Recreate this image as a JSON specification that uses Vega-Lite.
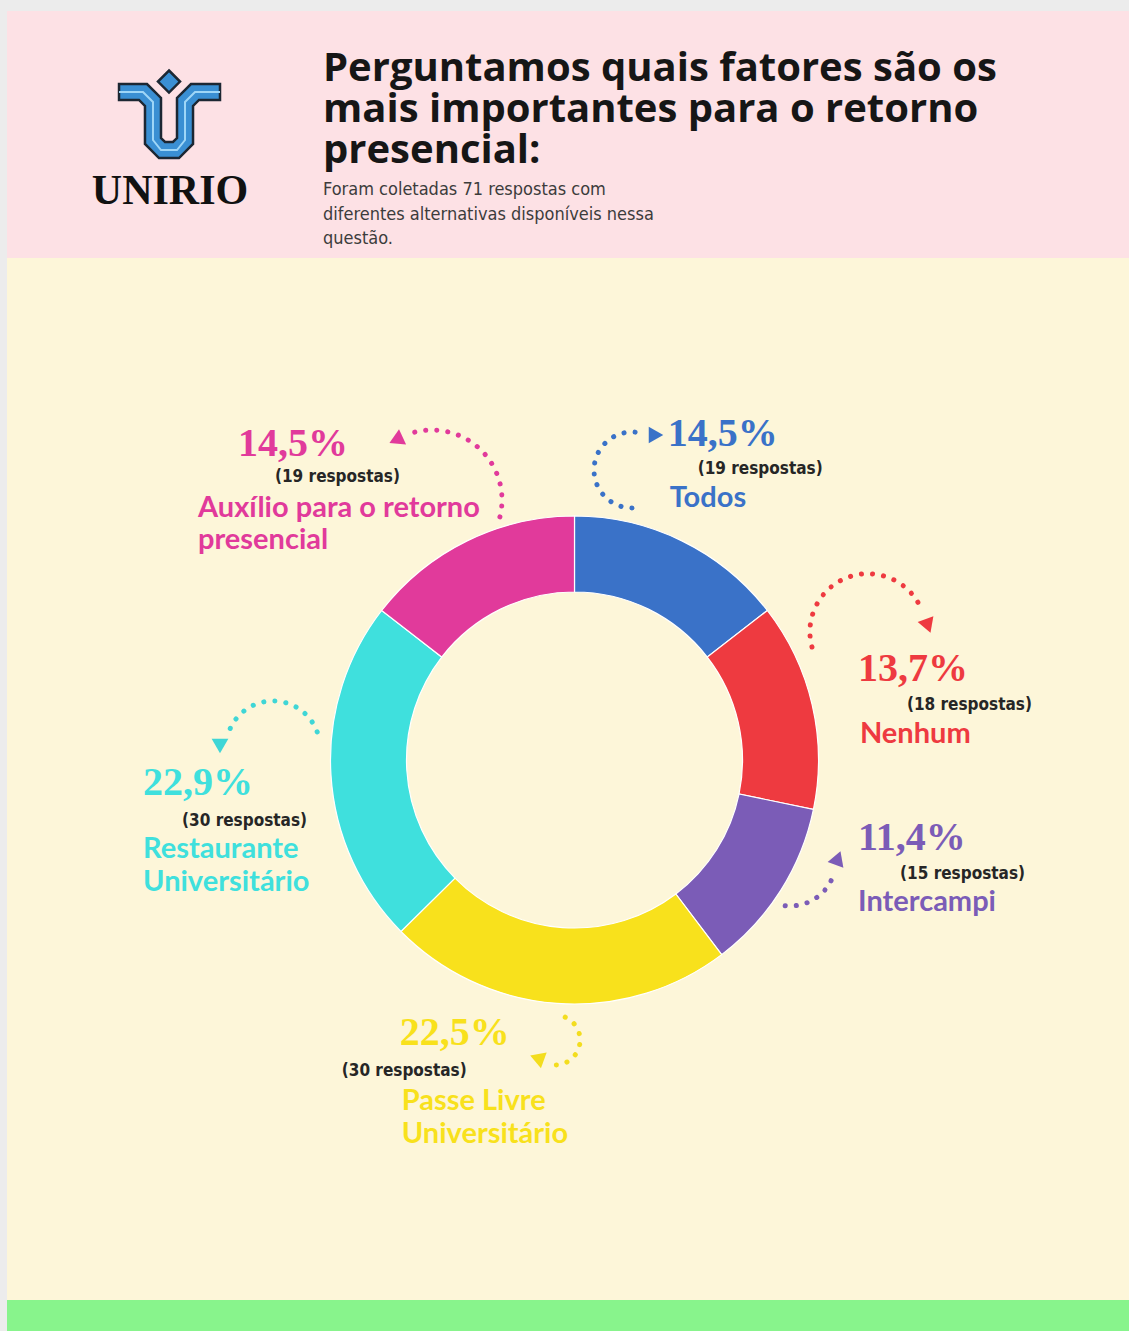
{
  "$schema": "https://vega.github.io/schema/vega-lite/v6.json",
  "background": "#ececec",
  "padding": {"left": 7, "top": 11, "right": 0, "bottom": 0},
  "spacing": 0,
  "config": {"view": {"stroke": null}, "concat": {"spacing": 0}, "legend": {"disable": true}},
  "datasets": {
    "respostas": [
      {"ord": 1, "cat": "Todos", "n": 19, "pct": "14,5%", "resp": "(19 respostas)", "nome": "Todos"},
      {"ord": 2, "cat": "Nenhum", "n": 18, "pct": "13,7%", "resp": "(18 respostas)", "nome": "Nenhum"},
      {"ord": 3, "cat": "Intercampi", "n": 15, "pct": "11,4%", "resp": "(15 respostas)", "nome": "Intercampi"},
      {"ord": 4, "cat": "Passe Livre", "n": 30, "pct": "22,5%", "resp": "(30 respostas)", "nome": "Passe Livre\nUniversitário"},
      {"ord": 5, "cat": "Restaurante", "n": 30, "pct": "22,9%", "resp": "(30 respostas)", "nome": "Restaurante\nUniversitário"},
      {"ord": 6, "cat": "Auxílio", "n": 19, "pct": "14,5%", "resp": "(19 respostas)", "nome": "Auxílio para o retorno\npresencial"}
    ]
  },
  "vconcat": [
    {
      "width": 1122, "height": 247,
      "view": {"fill": "#fde1e5", "stroke": null},
      "data": {"values": [{}]},
      "layer": [
        {"mark": {"type": "point", "shape": "M-0.98,-0.588L-0.431,-0.588L-0.157,-0.314L-0.157,0.471L-0.078,0.549L0.078,0.549L0.157,0.471L0.157,-0.314L0.431,-0.588L1,-0.588L1,-0.275L0.588,-0.275L0.471,-0.157L0.471,0.588L0.196,0.863L-0.196,0.863L-0.471,0.588L-0.471,-0.157L-0.588,-0.275L-0.98,-0.275ZM0,-0.853L0.216,-0.637L0,-0.421L-0.216,-0.637Z", "size": 10404, "filled": true, "fill": "#3a8fd3", "stroke": "#1c2733", "strokeWidth": 2.5, "opacity": 1, "x": 162, "y": 103}},
        {"mark": {"type": "point", "shape": "M-0.98,-0.431L-0.51,-0.431L-0.314,-0.235L-0.314,0.51L-0.157,0.706L0.157,0.706L0.314,0.51L0.314,-0.235L0.51,-0.431L1,-0.431", "size": 10404, "filled": false, "stroke": "#9fd6f7", "strokeWidth": 2, "opacity": 1, "x": 162, "y": 103}},
        {"mark": {"type": "text", "text": "UNIRIO", "x": 163, "y": 193, "align": "center", "baseline": "alphabetic", "font": "Liberation Serif", "fontWeight": "bold", "fontSize": 42, "fill": "#111111"}},
        {"mark": {"type": "text", "text": ["Perguntamos quais fatores são os", "mais importantes para o retorno", "presencial:"], "x": 316, "y": 70, "align": "left", "baseline": "alphabetic", "font": "Open Sans", "fontWeight": "bold", "fontSize": 40, "lineHeight": 41, "fill": "#161616"}},
        {"mark": {"type": "text", "text": ["Foram coletadas 71 respostas com", "diferentes alternativas disponíveis nessa", "questão."], "x": 316, "y": 184, "align": "left", "baseline": "alphabetic", "font": "Liberation Sans Narrow, DejaVu Sans Condensed, Roboto", "fontSize": 18, "lineHeight": 24.5, "fill": "#3c3c3c"}}
      ]
    },
    {
      "spacing": 0,
      "bounds": "flush",
      "hconcat": [
        {"width": 13, "height": 1004, "view": {"fill": "#fdf6d9", "stroke": null}, "data": {"values": [{}]}, "mark": {"type": "text", "text": ""}},
        {
          "width": 1109, "height": 1004,
          "view": {"fill": "#fdf6d9", "stroke": null},
          "layer": [
            {
              "data": {"name": "respostas"},
              "encoding": {
                "theta": {"field": "n", "type": "quantitative", "stack": true},
                "order": {"field": "ord", "type": "quantitative"},
                "detail": {"field": "cat", "type": "nominal"}
              },
              "layer": [
                {"mark": {"type": "arc", "outerRadius": 244, "innerRadius": 168, "stroke": "#ffffff", "strokeWidth": 1.2},
                 "encoding": {"color": {"field": "cat", "type": "nominal", "legend": null, "scale": {"domain": ["Todos", "Nenhum", "Intercampi", "Passe Livre", "Restaurante", "Auxílio"], "range": ["#3a72c8", "#ee3a40", "#7b5cb7", "#f8e11c", "#3fe0dd", "#e13a9b"]}}}},

                {"mark": {"type": "text", "radius": 330, "align": "left", "baseline": "alphabetic", "dx": -52, "dy": -18, "font": "Liberation Serif", "fontWeight": "bold", "fontSize": 40},
                 "encoding": {"text": {"field": "pct"}, "color": {"field": "cat", "type": "nominal", "legend": null}, "opacity": {"condition": {"test": "datum.cat === 'Todos'", "value": 1}, "value": 0}}},
                {"mark": {"type": "text", "radius": 330, "align": "left", "baseline": "alphabetic", "dx": -22, "dy": 10, "font": "Liberation Sans Narrow, DejaVu Sans Condensed, Roboto", "fontWeight": "bold", "fontSize": 17},
                 "encoding": {"text": {"field": "resp"}, "color": {"value": "#262626"}, "opacity": {"condition": {"test": "datum.cat === 'Todos'", "value": 1}, "value": 0}}},
                {"mark": {"type": "text", "radius": 330, "align": "left", "baseline": "alphabetic", "dx": -50, "dy": 43, "font": "Lato", "fontWeight": "bold", "fontSize": 29, "lineBreak": "\n", "lineHeight": 33},
                 "encoding": {"text": {"field": "nome"}, "color": {"field": "cat", "type": "nominal", "legend": null}, "opacity": {"condition": {"test": "datum.cat === 'Todos'", "value": 1}, "value": 0}}},

                {"mark": {"type": "text", "radius": 330, "align": "left", "baseline": "alphabetic", "dx": -38, "dy": -4.5, "font": "Liberation Serif", "fontWeight": "bold", "fontSize": 40},
                 "encoding": {"text": {"field": "pct"}, "color": {"field": "cat", "type": "nominal", "legend": null}, "opacity": {"condition": {"test": "datum.cat === 'Nenhum'", "value": 1}, "value": 0}}},
                {"mark": {"type": "text", "radius": 330, "align": "left", "baseline": "alphabetic", "dx": 11, "dy": 24.5, "font": "Liberation Sans Narrow, DejaVu Sans Condensed, Roboto", "fontWeight": "bold", "fontSize": 17},
                 "encoding": {"text": {"field": "resp"}, "color": {"value": "#262626"}, "opacity": {"condition": {"test": "datum.cat === 'Nenhum'", "value": 1}, "value": 0}}},
                {"mark": {"type": "text", "radius": 330, "align": "left", "baseline": "alphabetic", "dx": -36, "dy": 57.5, "font": "Lato", "fontWeight": "bold", "fontSize": 29, "lineBreak": "\n", "lineHeight": 33},
                 "encoding": {"text": {"field": "nome"}, "color": {"field": "cat", "type": "nominal", "legend": null}, "opacity": {"condition": {"test": "datum.cat === 'Nenhum'", "value": 1}, "value": 0}}},

                {"mark": {"type": "text", "radius": 330, "align": "left", "baseline": "alphabetic", "dx": 4.6, "dy": -86.4, "font": "Liberation Serif", "fontWeight": "bold", "fontSize": 40},
                 "encoding": {"text": {"field": "pct"}, "color": {"field": "cat", "type": "nominal", "legend": null}, "opacity": {"condition": {"test": "datum.cat === 'Intercampi'", "value": 1}, "value": 0}}},
                {"mark": {"type": "text", "radius": 330, "align": "left", "baseline": "alphabetic", "dx": 46.6, "dy": -57.4, "font": "Liberation Sans Narrow, DejaVu Sans Condensed, Roboto", "fontWeight": "bold", "fontSize": 17},
                 "encoding": {"text": {"field": "resp"}, "color": {"value": "#262626"}, "opacity": {"condition": {"test": "datum.cat === 'Intercampi'", "value": 1}, "value": 0}}},
                {"mark": {"type": "text", "radius": 330, "align": "left", "baseline": "alphabetic", "dx": 4.6, "dy": -25.4, "font": "Lato", "fontWeight": "bold", "fontSize": 29, "lineBreak": "\n", "lineHeight": 33},
                 "encoding": {"text": {"field": "nome"}, "color": {"field": "cat", "type": "nominal", "legend": null}, "opacity": {"condition": {"test": "datum.cat === 'Intercampi'", "value": 1}, "value": 0}}},

                {"mark": {"type": "text", "radius": 330, "align": "left", "baseline": "alphabetic", "dx": -151, "dy": -44, "font": "Liberation Serif", "fontWeight": "bold", "fontSize": 40},
                 "encoding": {"text": {"field": "pct"}, "color": {"field": "cat", "type": "nominal", "legend": null}, "opacity": {"condition": {"test": "datum.cat === 'Passe Livre'", "value": 1}, "value": 0}}},
                {"mark": {"type": "text", "radius": 330, "align": "left", "baseline": "alphabetic", "dx": -209, "dy": -13, "font": "Liberation Sans Narrow, DejaVu Sans Condensed, Roboto", "fontWeight": "bold", "fontSize": 17},
                 "encoding": {"text": {"field": "resp"}, "color": {"value": "#262626"}, "opacity": {"condition": {"test": "datum.cat === 'Passe Livre'", "value": 1}, "value": 0}}},
                {"mark": {"type": "text", "radius": 330, "align": "left", "baseline": "alphabetic", "dx": -149, "dy": 21, "font": "Lato", "fontWeight": "bold", "fontSize": 29, "lineBreak": "\n", "lineHeight": 33},
                 "encoding": {"text": {"field": "nome"}, "color": {"field": "cat", "type": "nominal", "legend": null}, "opacity": {"condition": {"test": "datum.cat === 'Passe Livre'", "value": 1}, "value": 0}}},

                {"mark": {"type": "text", "radius": 330, "align": "left", "baseline": "alphabetic", "dx": -102, "dy": 15.4, "font": "Liberation Serif", "fontWeight": "bold", "fontSize": 40},
                 "encoding": {"text": {"field": "pct"}, "color": {"field": "cat", "type": "nominal", "legend": null}, "opacity": {"condition": {"test": "datum.cat === 'Restaurante'", "value": 1}, "value": 0}}},
                {"mark": {"type": "text", "radius": 330, "align": "left", "baseline": "alphabetic", "dx": -63, "dy": 46.4, "font": "Liberation Sans Narrow, DejaVu Sans Condensed, Roboto", "fontWeight": "bold", "fontSize": 17},
                 "encoding": {"text": {"field": "resp"}, "color": {"value": "#262626"}, "opacity": {"condition": {"test": "datum.cat === 'Restaurante'", "value": 1}, "value": 0}}},
                {"mark": {"type": "text", "radius": 330, "align": "left", "baseline": "alphabetic", "dx": -102, "dy": 78.4, "font": "Lato", "fontWeight": "bold", "fontSize": 29, "lineBreak": "\n", "lineHeight": 33},
                 "encoding": {"text": {"field": "nome"}, "color": {"field": "cat", "type": "nominal", "legend": null}, "opacity": {"condition": {"test": "datum.cat === 'Restaurante'", "value": 1}, "value": 0}}},

                {"mark": {"type": "text", "radius": 200, "align": "left", "baseline": "alphabetic", "dx": -248.5, "dy": -124.4, "font": "Liberation Serif", "fontWeight": "bold", "fontSize": 40},
                 "encoding": {"text": {"field": "pct"}, "color": {"field": "cat", "type": "nominal", "legend": null}, "opacity": {"condition": {"test": "datum.cat === 'Auxílio'", "value": 1}, "value": 0}}},
                {"mark": {"type": "text", "radius": 200, "align": "left", "baseline": "alphabetic", "dx": -211.5, "dy": -98.4, "font": "Liberation Sans Narrow, DejaVu Sans Condensed, Roboto", "fontWeight": "bold", "fontSize": 17},
                 "encoding": {"text": {"field": "resp"}, "color": {"value": "#262626"}, "opacity": {"condition": {"test": "datum.cat === 'Auxílio'", "value": 1}, "value": 0}}},
                {"mark": {"type": "text", "radius": 200, "align": "left", "baseline": "alphabetic", "dx": -288.5, "dy": -63.4, "font": "Lato", "fontWeight": "bold", "fontSize": 29, "lineBreak": "\n", "lineHeight": 32},
                 "encoding": {"text": {"field": "nome"}, "color": {"field": "cat", "type": "nominal", "legend": null}, "opacity": {"condition": {"test": "datum.cat === 'Auxílio'", "value": 1}, "value": 0}}}
              ]
            },
            {"data": {"values": [{}]}, "mark": {"type": "point", "shape": "M0,1A1,1,0,1,1,0.259,-0.966", "size": 5776, "filled": false, "stroke": "#3a72c8", "strokeWidth": 5, "strokeCap": "round", "strokeDash": [0.1, 11], "opacity": 1, "x": 612, "y": 212}},
            {"data": {"values": [{}]}, "mark": {"type": "point", "shape": "triangle-right", "size": 280, "filled": true, "fill": "#3a72c8", "opacity": 1, "x": 636, "y": 177}},
            {"data": {"values": [{}]}, "mark": {"type": "point", "shape": "M-0.966,0.259A1,1,0,0,1,0.94,-0.342", "size": 13456, "filled": false, "stroke": "#ee3a40", "strokeWidth": 5, "strokeCap": "round", "strokeDash": [0.1, 11], "opacity": 1, "x": 848, "y": 374}},
            {"data": {"values": [{}]}, "mark": {"type": "point", "shape": "triangle-down", "angle": -20, "size": 280, "filled": true, "fill": "#ee3a40", "opacity": 1, "x": 908, "y": 368}},
            {"data": {"values": [{}]}, "mark": {"type": "point", "shape": "M-0.105,0.995A1,1,0,0,0,0.94,0.342", "size": 8464, "filled": false, "stroke": "#7b5cb7", "strokeWidth": 5, "strokeCap": "round", "strokeDash": [0.1, 11], "opacity": 1, "x": 770, "y": 602}},
            {"data": {"values": [{}]}, "mark": {"type": "point", "shape": "triangle-up", "angle": 20, "size": 280, "filled": true, "fill": "#7b5cb7", "opacity": 1, "x": 818, "y": 600}},
            {"data": {"values": [{}]}, "mark": {"type": "point", "shape": "M0.407,-0.914A1,1,0,0,1,-0.174,0.985", "size": 2500, "filled": false, "stroke": "#f3dd1e", "strokeWidth": 5, "strokeCap": "round", "strokeDash": [0.1, 11], "opacity": 1, "x": 535, "y": 782}},
            {"data": {"values": [{}]}, "mark": {"type": "point", "shape": "triangle-left", "angle": 20, "size": 280, "filled": true, "fill": "#f3dd1e", "opacity": 1, "x": 517, "y": 800}},
            {"data": {"values": [{}]}, "mark": {"type": "point", "shape": "M0.94,-0.342A1,1,0,0,0,-0.94,-0.342", "size": 8836, "filled": false, "stroke": "#3fd6d6", "strokeWidth": 5, "strokeCap": "round", "strokeDash": [0.1, 11], "opacity": 1, "x": 253, "y": 490}},
            {"data": {"values": [{}]}, "mark": {"type": "point", "shape": "triangle-down", "size": 280, "filled": true, "fill": "#3fd6d6", "opacity": 1, "x": 200, "y": 488}},
            {"data": {"values": [{}]}, "mark": {"type": "point", "shape": "M0.97,0.242A1,1,0,0,0,-0.309,-0.951", "size": 19600, "filled": false, "stroke": "#e13a9b", "strokeWidth": 5, "strokeCap": "round", "strokeDash": [0.1, 11], "opacity": 1, "x": 412, "y": 242}},
            {"data": {"values": [{}]}, "mark": {"type": "point", "shape": "triangle-left", "angle": -25, "size": 280, "filled": true, "fill": "#e13a9b", "opacity": 1, "x": 376, "y": 182}}
          ]
        }
      ]
    },
    {"width": 1122, "height": 38, "view": {"fill": "#fdf6d9", "stroke": null}, "data": {"values": [{}]}, "mark": {"type": "text", "text": ""}},
    {"width": 1122, "height": 31, "view": {"fill": "#88f48c", "stroke": null}, "data": {"values": [{}]}, "mark": {"type": "text", "text": ""}}
  ]
}
